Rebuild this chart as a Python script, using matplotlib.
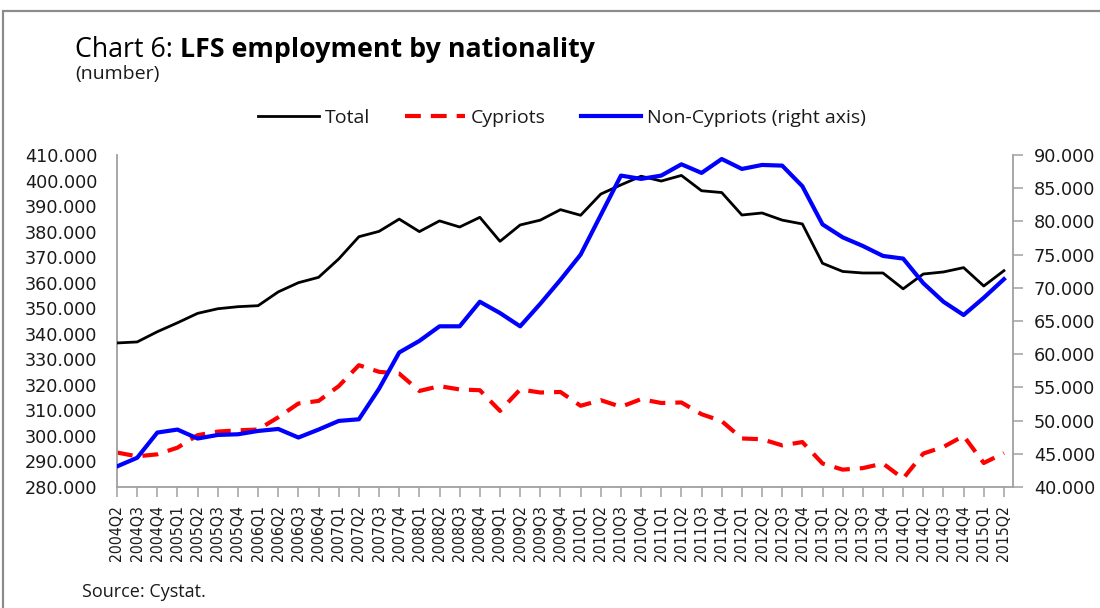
import matplotlib
matplotlib.use("Agg")
import matplotlib.pyplot as plt
from matplotlib import font_manager
from matplotlib.patches import Rectangle
from matplotlib.ticker import FuncFormatter, MultipleLocator

quarters = ["2004Q2", "2004Q3", "2004Q4",
            "2005Q1", "2005Q2", "2005Q3", "2005Q4",
            "2006Q1", "2006Q2", "2006Q3", "2006Q4",
            "2007Q1", "2007Q2", "2007Q3", "2007Q4",
            "2008Q1", "2008Q2", "2008Q3", "2008Q4",
            "2009Q1", "2009Q2", "2009Q3", "2009Q4",
            "2010Q1", "2010Q2", "2010Q3", "2010Q4",
            "2011Q1", "2011Q2", "2011Q3", "2011Q4",
            "2012Q1", "2012Q2", "2012Q3", "2012Q4",
            "2013Q1", "2013Q2", "2013Q3", "2013Q4",
            "2014Q1", "2014Q2", "2014Q3", "2014Q4",
            "2015Q1", "2015Q2"]

total = [336400, 336800, 340800, 344300, 348000, 349800, 350600, 351000, 356400, 360000,
         362100, 369300, 378000, 380100, 384900, 380000, 384200, 381800, 385600, 376200,
         382600, 384500, 388600, 386400, 394700, 398300, 401700, 399800, 402000, 396000,
         395300, 386500, 387300, 384500, 383000, 367600, 364400, 363800, 363800, 357600,
         363400, 364200, 365900, 358700, 364700]

cypriots = [293500, 292000, 292800, 295400, 300300, 301700, 302200, 302500, 307300, 312700,
            313700, 319500, 327700, 325100, 324400, 317600, 319500, 318200, 317900, 309800,
            318200, 317000, 317200, 311800, 314000, 311400, 314400, 312900, 313100, 308500,
            305800, 299000, 298700, 296300, 297600, 289200, 286800, 287400, 289200, 283300,
            293100, 295700, 300000, 289400, 293300]

non_cypriots = [43100, 44400, 48200, 48650, 47300, 47840, 47940, 48440, 48740, 47450,
                48650, 49950, 50200, 54800, 60260, 62000, 64200, 64200, 67900, 66200,
                64200, 67600, 71200, 75000, 80960, 86900, 86400, 86900, 88600, 87300,
                89400, 87900, 88500, 88400, 85300, 79550, 77600, 76300, 74800, 74400,
                70700, 67900, 65900, 68500, 71300]

series_labels = ["Total", "Cypriots", "Non-Cypriots (right axis)"]

W, H = 1100, 608
fig = plt.figure(figsize=(W / 100, H / 100), dpi=100)
fig.patch.set_facecolor("white")


def fx(px):
    return px / W


def fy(py):
    return 1 - py / H


available = {f.name for f in font_manager.fontManager.ttflist}
main_font = "Open Sans" if "Open Sans" in available else "DejaVu Sans"
grey = "#a0a0a0"

ax = fig.add_axes([fx(117), fy(487), fx(1013) - fx(117), fy(155) - fy(487)])
ax2 = ax.twinx()

xs = list(range(len(quarters)))
l_tot, = ax.plot(xs, total, color="black", lw=2.0, zorder=3)
l_cyp, = ax.plot(xs, cypriots, color="#ff0000", lw=3.0, linestyle=(0, (3.8, 2.4)),
                 dash_capstyle="butt", zorder=2)
l_non, = ax2.plot(xs, non_cypriots, color="#0000ff", lw=3.0, zorder=3)

ax.set_xlim(0, 44.45)
ax.set_ylim(280000, 410000)
ax2.set_ylim(40000, 90000)
ax.yaxis.set_major_locator(MultipleLocator(10000))
ax2.yaxis.set_major_locator(MultipleLocator(5000))

fmt = FuncFormatter(lambda v, p: "{:,.0f}".format(v).replace(",", "."))
ax.yaxis.set_major_formatter(fmt)
ax2.yaxis.set_major_formatter(fmt)

ax.set_xticks(xs)
ax.set_xticklabels(quarters, rotation=90, fontsize=11.3, family="DejaVu Sans",
                   fontstretch="condensed")

for s in ["top", "right"]:
    ax.spines[s].set_visible(False)
for s in ["top", "left", "bottom"]:
    ax2.spines[s].set_visible(False)
for sp in [ax.spines["left"], ax.spines["bottom"], ax2.spines["right"]]:
    sp.set_color(grey)
    sp.set_linewidth(1.3)

ax.tick_params(axis="y", length=0, pad=14, labelsize=12.7, labelcolor="#1a1a1a")
ax.tick_params(axis="x", length=7, width=1.1, color=grey, direction="out", pad=6,
               labelcolor="#1a1a1a")
ax2.tick_params(axis="y", length=7, width=1.1, color=grey, direction="out", pad=8,
                labelsize=12.7, labelcolor="#1a1a1a")
for lab in ax.get_yticklabels() + ax2.get_yticklabels():
    lab.set_family("DejaVu Sans")

# legend
fig.legend([l_tot, l_cyp, l_non], series_labels, loc="center",
           bbox_to_anchor=(fx(562), fy(118)), ncol=3, frameon=False,
           prop={"family": main_font, "size": 14}, handlelength=3.1,
           handletextpad=0.3, columnspacing=1.8, labelcolor="#1a1a1a")

# title
renderer = fig.canvas.get_renderer()
t1 = fig.text(fx(75), fy(57), "Chart 6: ", fontsize=19.3, family=main_font,
              ha="left", va="baseline", color="black")
w1 = t1.get_window_extent(renderer=renderer).width
fig.text(fx(75 + w1), fy(57), "LFS employment by nationality", fontsize=19.3,
         family=main_font, fontweight="bold", ha="left", va="baseline", color="black")
fig.text(fx(75), fy(74), "(number)", fontsize=14, family=main_font, ha="left",
         va="center", color="#1a1a1a")
fig.text(fx(82), fy(592), "Source: Cystat.", fontsize=13, family=main_font,
         ha="left", va="center", color="#1a1a1a")

# outer frame
fig.add_artist(Rectangle((fx(3), -0.2), 1.5, fy(11) + 0.2, transform=fig.transFigure,
                         fill=False, edgecolor="#8c8c8c", lw=1.6, clip_on=False))

fig.savefig("out.png", dpi=100, facecolor="white")
